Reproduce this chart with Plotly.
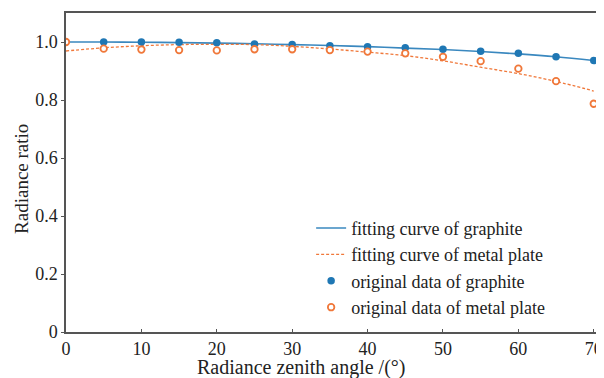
import plotly.graph_objects as go

angles = [0, 5, 10, 15, 20, 25, 30, 35, 40, 45, 50, 55, 60, 65, 70]
graphite_angles = [5, 10, 15, 20, 25, 30, 35, 40, 45, 50, 55, 60, 65, 70]
graphite_data = [1.0, 1.0, 0.999, 0.997, 0.993, 0.991, 0.987, 0.984, 0.980, 0.975, 0.968, 0.961, 0.949, 0.936]
metal_data = [1.0, 0.977, 0.974, 0.972, 0.971, 0.975, 0.975, 0.972, 0.967, 0.961, 0.949, 0.934, 0.908, 0.865, 0.787]
graphite_fit = [1.0, 1.0, 0.999, 0.998, 0.996, 0.994, 0.991, 0.988, 0.984, 0.979, 0.974, 0.967, 0.959, 0.949, 0.936]
metal_fit = [0.969, 0.980, 0.987, 0.991, 0.992, 0.991, 0.985, 0.976, 0.965, 0.953, 0.935, 0.913, 0.891, 0.864, 0.831]
x_ticks = [0, 10, 20, 30, 40, 50, 60, 70]
y_ticks = [0, 0.2, 0.4, 0.6, 0.8, 1.0]
y_tick_text = ["0", "0.2", "0.4", "0.6", "0.8", "1.0"]
x_title = "Radiance zenith angle /(°)"
y_title = "Radiance ratio"

BLUE = "#1f77b4"
ORANGE = "#f0783a"
FONT = "Liberation Serif"
TXT = "#222222"

fig = go.Figure()
fig.add_trace(go.Scatter(x=angles, y=graphite_fit, mode="lines", line=dict(color="#3a88bf", width=1.6, shape="spline"),
                         name="fitting curve of graphite"))
fig.add_trace(go.Scatter(x=angles, y=metal_fit, mode="lines", line=dict(color=ORANGE, width=1.3, dash="3px,2px", shape="spline"),
                         name="fitting curve of metal plate"))
fig.add_trace(go.Scatter(x=graphite_angles, y=graphite_data, mode="markers",
                         marker=dict(color=BLUE, size=7.5, line=dict(width=0)),
                         name="original data of graphite"))
fig.add_trace(go.Scatter(x=angles, y=metal_data, mode="markers",
                         marker=dict(color="white", size=6.5, line=dict(color=ORANGE, width=1.8)),
                         name="original data of metal plate"))

tick_font = dict(family=FONT, size=18, color=TXT)
fig.update_xaxes(range=[0, 70.3], tickvals=x_ticks, ticklen=3, ticks="inside", automargin=False,
                 showline=True, linecolor="#555555", linewidth=1.5, mirror=True, showgrid=False, zeroline=False,
                 tickcolor="#555555", tickfont=tick_font)
fig.update_yaxes(range=[0, 1.1], tickvals=y_ticks, ticktext=y_tick_text, ticklen=3, ticks="outside", automargin=False,
                 showline=True, linecolor="#555555", linewidth=1.5, mirror=True, showgrid=False, zeroline=False,
                 tickcolor="#555555", tickfont=tick_font)

fig.add_annotation(text=x_title, xref="paper", yref="paper", x=0.443, y=-0.111, xanchor="center", yanchor="middle",
                   showarrow=False, font=dict(family=FONT, size=20, color=TXT))
fig.add_annotation(text=y_title, xref="paper", yref="paper", x=-0.083, y=0.48, xanchor="center", yanchor="middle",
                   textangle=-90, showarrow=False, font=dict(family=FONT, size=19, color=TXT))

fig.update_layout(
    width=596, height=370,
    margin=dict(l=58, r=8, t=5, b=46),
    paper_bgcolor="white", plot_bgcolor="white",
    font=dict(family=FONT, size=18, color=TXT),
    legend=dict(x=0.4625, y=0.383, xanchor="left", yanchor="top", bgcolor="rgba(255,255,255,0)",
                font=dict(family=FONT, size=18, color=TXT), tracegroupgap=0, itemwidth=30),
    showlegend=True,
)

fig.write_html("out.html")
